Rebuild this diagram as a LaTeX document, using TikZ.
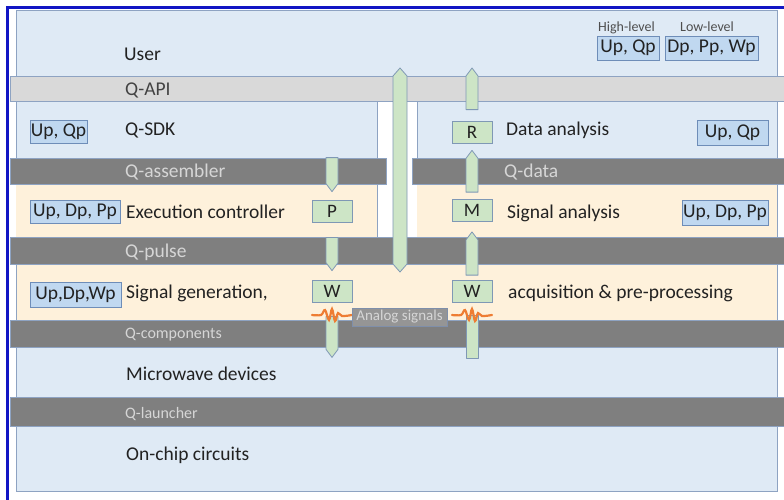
\documentclass[tikz,border=0pt]{standalone}
\usepackage{fontspec}
\setmainfont{Carlito}
\usetikzlibrary{calc}

\definecolor{framecol}{RGB}{18,22,196}
\definecolor{panelblue}{HTML}{DFEAF5}
\definecolor{cream}{HTML}{FEF1DB}
\definecolor{lightband}{HTML}{D9D9D9}
\definecolor{darkband}{HTML}{7F7F7F}
\definecolor{edge}{HTML}{8EA3C2}
\definecolor{bandtxt}{HTML}{D6D6D6}
\definecolor{lblfill}{HTML}{C0D8F0}
\definecolor{lbledge}{HTML}{6E8DB8}
\definecolor{gfill}{HTML}{CDE5C6}
\definecolor{gedge}{HTML}{7F98B5}
\definecolor{wave}{HTML}{EE7D33}
\definecolor{analogfill}{HTML}{959595}
\definecolor{analogedge}{HTML}{7F8FAA}
\definecolor{txt}{HTML}{222222}

% vertical block arrows between two named coordinates (tail, tip)
\newcommand\blkup[3][6]{\filldraw[blk] ($(#2)+(-#1,0)$) -- ($(#3)+(-#1,8)$) -- (#3) -- ($(#3)+(#1,8)$) -- ($(#2)+(#1,0)$) -- cycle;}
\newcommand\blkdown[3][6]{\filldraw[blk] ($(#2)+(-#1,0)$) -- ($(#3)+(-#1,-8)$) -- (#3) -- ($(#3)+(#1,-8)$) -- ($(#2)+(#1,0)$) -- cycle;}
\newcommand\blkboth[3][7]{\filldraw[blk] (#2) -- ($(#2)+(#1,8)$) -- ($(#3)+(#1,-8)$) -- (#3) -- ($(#3)+(-#1,-8)$) -- ($(#2)+(-#1,8)$) -- cycle;}

\begin{document}
\begin{tikzpicture}[x=1pt,y=-1pt,
  lay/.style={anchor=base west, font=\fontsize{19.5}{22}\selectfont, text=txt, inner sep=0pt},
  bandlabel/.style={lay, text=bandtxt},
  smallband/.style={bandlabel, font=\fontsize{16}{19}\selectfont},
  lbl/.style={draw=lbledge, fill=lblfill, line width=0.8pt, inner sep=0pt,
    font=\fontsize{19.5}{22}\selectfont, text=txt},
  gbox/.style={draw=gedge, fill=gfill, line width=0.8pt, minimum width=40pt,
    minimum height=22pt, inner sep=0pt, font=\fontsize{19}{22}\selectfont, text=txt},
  blk/.style={draw=gedge, fill=gfill, line width=0.8pt, line join=round},
  band/.style={draw=edge, fill=darkband, line width=0.6pt},
  panel/.style={draw=edge, line width=0.8pt},
  squiggle/.style={draw=wave, line width=2.2pt, line cap=round}]

\useasboundingbox (0,0) rectangle (784,499);
\clip (0,0) rectangle (784,499);
\fill[white] (0,0) rectangle (784,499);

% outer frame
\draw[framecol, line width=3pt] (7.5,7.5) rectangle (800,520);

% layer panels
\filldraw[panel, fill=panelblue] (16,10) rectangle (777,491);
\fill[white] (377,101) rectangle (417,237);
\filldraw[panel, fill=panelblue] (16,101) rectangle (377,237);
\filldraw[panel, fill=panelblue] (417,101) rectangle (777,237);
\fill[cream] (16.4,184) rectangle (376.6,236.6);
\fill[cream] (417.4,184) rectangle (776.6,236.6);
\filldraw[panel, fill=cream] (16,264) rectangle (777,320);

% interface bands
\filldraw[band, fill=lightband] (10,76) rectangle (790,101);
\filldraw[band] (10,158) rectangle (386,184);
\filldraw[band] (412,158) rectangle (790,184);
\filldraw[band] (10,237) rectangle (790,264);
\filldraw[band] (10,320) rectangle (790,347);
\filldraw[band] (10,397) rectangle (790,426);

% layer and interface names
\node[lay] (user) at (124,60) {User};
\node[lay, text=txt!85] (qapi) at (125,95) {Q-API};
\node[lay] (qsdk) at (125,135) {Q-SDK};
\node[bandlabel] (qasm) at (125,177) {Q-assembler};
\node[lay] (exec) at (126,218) {Execution controller};
\node[bandlabel] (qpulse) at (125,257) {Q-pulse};
\node[lay] (siggen) at (126,298) {Signal generation,};
\node[smallband] (qcomp) at (125,338) {Q-components};
\node[lay] (mw) at (126,380) {Microwave devices};
\node[smallband] (qlaunch) at (125,418) {Q-launcher};
\node[lay] (chip) at (126,460) {On-chip circuits};
\node[lay] (data) at (506,135) {Data analysis};
\node[bandlabel] (qdata) at (504,177) {Q-data};
\node[lay] (siga) at (507,218) {Signal analysis};
\node[lay] (acq) at (508,298) {acquisition \& pre-processing};

% parameter labels
\node[lay, font=\fontsize{14}{16}\selectfont, text=txt!80] (hl) at (598,31) {High-level};
\node[lay, font=\fontsize{14}{16}\selectfont, text=txt!80] (ll) at (680,31) {Low-level};
\node[lbl, minimum width=62pt, minimum height=24pt] (tr1) at (628,48) {Up, Qp};
\node[lbl, minimum width=93pt, minimum height=24pt] (tr2) at (711.5,48) {Dp, Pp, Wp};
\node[lbl, minimum width=57pt, minimum height=23pt] (l1) at (58.5,131.5) {Up, Qp};
\node[lbl, minimum width=90pt, minimum height=23pt] (l2) at (75,211.5) {Up, Dp, Pp};
\node[lbl, minimum width=91pt, minimum height=25pt] (l3) at (75.5,294.5) {Up,Dp,Wp};
\node[lbl, minimum width=71pt, minimum height=25pt] (r1) at (732.5,132.5) {Up, Qp};
\node[lbl, minimum width=86pt, minimum height=25pt] (r2) at (725,212.5) {Up, Dp, Pp};

% data objects
\node[gbox] (P) at (332,211) {P};
\node[gbox] (R) at (472,132) {R};
\node[gbox] (M) at (472,210.5) {M};
\node[gbox] (Wl) at (332,291) {W};
\node[gbox] (Wr) at (472,291.5) {W};

% arrow end points
\coordinate (bigtop) at (400,68);
\coordinate (bigbot) at (400,272);
\coordinate (r0) at ($(R.north)+(0,-11)$);
\coordinate (r1t) at (472,68);
\coordinate (mr0) at ($(M.north)+(0,-7)$);
\coordinate (mr1) at ($(R.south)+(0,7)$);
\coordinate (wm0) at ($(Wr.north)+(0,-5)$);
\coordinate (wm1) at ($(M.south)+(0,10)$);
\coordinate (pa0) at ($(P.north)+(0,-42)$);
\coordinate (pa1) at ($(P.north)+(0,-8)$);
\coordinate (pw0) at ($(P.south)+(0,15)$);
\coordinate (pw1) at ($(Wl.north)+(0,-9)$);
\coordinate (wl0) at ($(Wl.south)+(0,14)$);
\coordinate (wl1) at ($(Wl.south)+(0,55)$);
\coordinate (wr0) at ($(Wr.south)+(0,12)$);
\coordinate (wr1) at ($(Wr.south)+(0,55.5)$);

% flows between layers
\blkboth{bigtop}{bigbot}
\blkup{r0}{r1t}
\blkup{mr0}{mr1}
\blkup{wm0}{wm1}
\blkdown{pa0}{pa1}
\blkdown{pw0}{pw1}
\blkdown{wl0}{wl1}
\filldraw[blk] ($(wr0)+(-6,0)$) rectangle ($(wr1)+(6,0)$);

% analog signal waves
\foreach \cx in {332,472}{
  \draw[squiggle] plot[smooth, tension=0.6] coordinates {
    (\cx-20,315) (\cx-11,315) (\cx-7,310) (\cx-3,320) (\cx,309) (\cx+3,321) (\cx+6,313) (\cx+10,316) (\cx+20,315)};
}
\node[draw=analogedge, fill=analogfill, line width=0.8pt, inner sep=0pt,
  minimum width=95pt, minimum height=18pt, text=bandtxt,
  font=\fontsize{15}{17}\selectfont] (analog) at (399.5,317) {Analog signals};
\end{tikzpicture}
\end{document}
